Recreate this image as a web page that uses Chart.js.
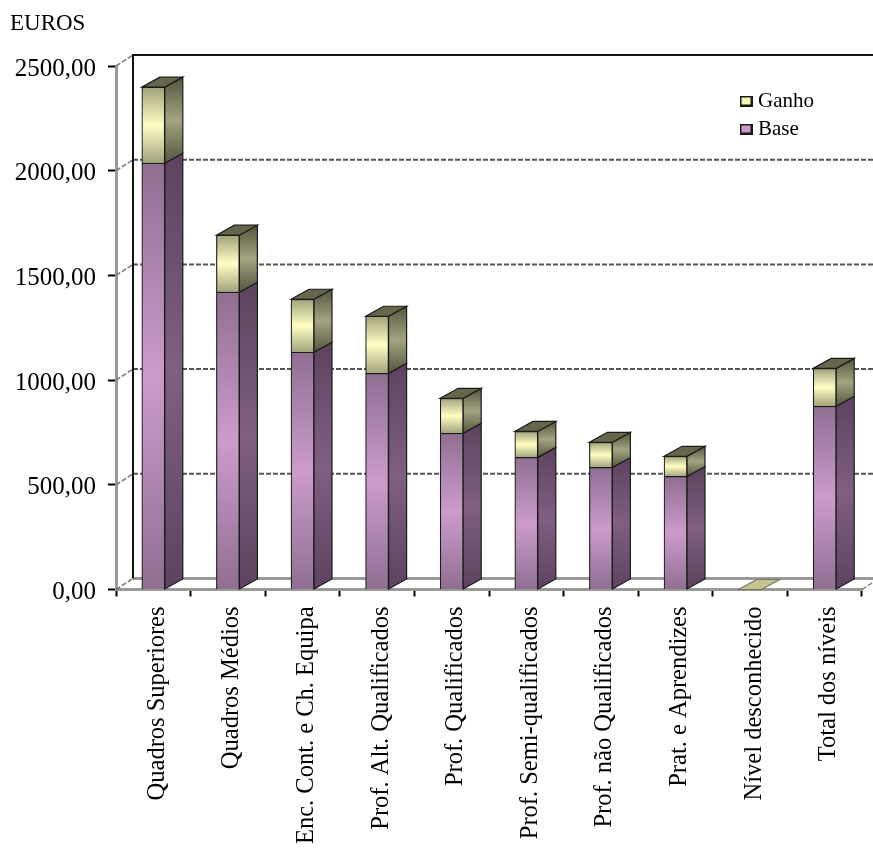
<!DOCTYPE html>
<html><head><meta charset="utf-8">
<style>html,body{margin:0;padding:0;background:#fff}canvas{display:block;filter:blur(.4px)}</style>
<script src="https://cdn.jsdelivr.net/npm/chart.js@4"></script>
</head><body><canvas id="c" width="873" height="848"></canvas>
<script>
const categories=["Quadros Superiores","Quadros Médios","Enc. Cont. e Ch. Equipa","Prof. Alt. Qualificados","Prof. Qualificados","Prof. Semi-qualificados","Prof. não Qualificados","Prat. e Aprendizes","Nível desconhecido","Total dos níveis"];
const baseValues=[2036,1420,1133,1032,746,631,583,540,0,875];
const ganhoValues=[363,272,253,273,167,124,120,96,0,181];
const yMax=2500, yStep=500;
const DX=18, DY=10, BACKX=17, BACKY=11;
const FONT='"Liberation Serif"';
const purple={front:['#8f6f92','#cc9bcb','#8f6f92'],side:['#5d435f','#7f5f82','#5d435f'],solid:'#c99cc9'};
const yellow={front:['#a2a27c','#ffffc4','#a2a27c'],side:['#55553e','#a4a482','#55553e'],solid:'#f5f5b0'};
function grad(ctx,y0,y1,c){const g=ctx.createLinearGradient(0,y0,0,y1);g.addColorStop(0,c[0]);g.addColorStop(.5,c[1]);g.addColorStop(1,c[2]);return g;}
function frontFill(pal,stackBelow){return (c)=>{
  if(c.dataIndex===undefined||c.type!=='data')return pal.solid;
  const ys=c.chart.scales.y; if(!ys)return pal.solid;
  const lo=stackBelow?stackBelow[c.dataIndex]:0; const v=c.dataset.data[c.dataIndex];
  const a=ys.getPixelForValue(lo+v),b=ys.getPixelForValue(lo);
  return (!isFinite(a)||!isFinite(b)||a===b)?pal.solid:grad(c.chart.ctx,a,b,pal.front);};}
function swatch(color){const s=document.createElement('canvas');s.width=13;s.height=11;const g=s.getContext('2d');
  g.fillStyle='#1a1a1a';g.fillRect(0,0,13,11);g.fillStyle=color;g.fillRect(2,2,9,7);return s;}
const legendMarks=[swatch(purple.solid),swatch(yellow.solid)];
const depth={id:'depth',
 afterLayout(chart){const l=chart.legend;l.left=737.5;l.top=83.5;l.adjustHitBoxes&&l.adjustHitBoxes();},
 beforeDatasetsDraw(chart){
  const {ctx,chartArea:a,scales:{x,y}}=chart;ctx.save();
  // walls
  const bx=a.left+BACKX, y0=y.getPixelForValue(0);
  ctx.setLineDash([5,2]);
  y.ticks.forEach(t=>{const p=y.getPixelForValue(t.value);
    ctx.strokeStyle='#777';ctx.lineWidth=1.5;
    ctx.beginPath();ctx.moveTo(a.left,p);ctx.lineTo(bx,p-BACKY);ctx.stroke();
    if(t.value>0&&t.value<yMax){ctx.strokeStyle='#555';ctx.lineWidth=2;ctx.beginPath();ctx.moveTo(bx,p-BACKY);ctx.lineTo(a.right+BACKX,p-BACKY);ctx.stroke();}
  });
  ctx.strokeStyle='#888';ctx.lineWidth=1.5;ctx.beginPath();ctx.moveTo(a.right,y0);ctx.lineTo(a.right+BACKX,y0-BACKY);ctx.stroke();
  ctx.setLineDash([]);ctx.strokeStyle='#999';ctx.lineWidth=3;
  ctx.beginPath();ctx.moveTo(bx,y0-BACKY);ctx.lineTo(a.right+BACKX,y0-BACKY);ctx.stroke();
  ctx.strokeStyle='#111';ctx.lineWidth=2;
  const top=y.getPixelForValue(yMax)-BACKY;
  ctx.beginPath();ctx.moveTo(bx,y0-BACKY);ctx.lineTo(bx,top);ctx.lineTo(a.right+BACKX,top);ctx.stroke();
  // bar depth
  ctx.lineWidth=1.2;ctx.strokeStyle='#1c1c1c';
  const pals=[purple,yellow];
  chart.getDatasetMeta(0).data.forEach((_,i)=>{
    [0,1].forEach(k=>{
      const el=chart.getDatasetMeta(k).data[i];const {x:cx,y:ty,base:by,width:w}=el.getProps(['x','y','base','width'],false);
      const r=cx+w/2,l=cx-w/2;
      if(by-ty>0.5){
        ctx.fillStyle=grad(ctx,ty-DY,by,pals[k].side);
        ctx.beginPath();ctx.moveTo(r,ty);ctx.lineTo(r+DX,ty-DY);ctx.lineTo(r+DX,by-DY);ctx.lineTo(r,by);ctx.closePath();ctx.fill();ctx.stroke();
      }
      if(k===1){
        const flat=by-ty<=0.5;
        ctx.fillStyle=flat?'#c4c490':'#66664c';ctx.strokeStyle=flat?'#77775a':'#1c1c1c';
        ctx.beginPath();ctx.moveTo(l,ty);ctx.lineTo(l+DX,ty-DY);ctx.lineTo(r+DX,ty-DY);ctx.lineTo(r,ty);ctx.closePath();ctx.fill();ctx.stroke();
        ctx.strokeStyle='#1c1c1c';
      }
    });
  });
  ctx.restore();
 }};
const edge=(c)=>c.type==='data'&&c.dataset.data[c.dataIndex]===0?'rgba(0,0,0,0)':'#1c1c1c';
new Chart(document.getElementById('c'),{type:'bar',
 data:{labels:categories,datasets:[
  {label:'Base',data:baseValues,backgroundColor:frontFill(purple),borderColor:edge,borderWidth:1.2,barThickness:23},
  {label:'Ganho',data:ganhoValues,backgroundColor:frontFill(yellow,baseValues),borderColor:edge,borderWidth:1.2,barThickness:23}
 ]},
 options:{responsive:false,animation:false,devicePixelRatio:1,
  layout:{padding:{left:10,right:11,top:0,bottom:0}},
  plugins:{
   title:{display:true,text:'EUROS',align:'start',color:'#000',font:{family:FONT,size:23,weight:'normal',lineHeight:1.2},padding:{top:10,bottom:28.4}},
   legend:{position:'chartArea',align:'start',reverse:true,labels:{usePointStyle:true,pointStyleWidth:3,padding:7,color:'#000',font:{family:FONT,size:21},
     generateLabels:c=>c.data.datasets.map((d,i)=>({text:d.label,datasetIndex:i,pointStyle:legendMarks[i],lineWidth:0,fontColor:'#000',hidden:false}))}},
   tooltip:{enabled:false}},
  scales:{
   x:{stacked:true,afterFit:s=>{s.height=258.5;},
      grid:{drawOnChartArea:false,tickLength:7,tickColor:'#000',tickWidth:2},border:{color:'#999',width:3},
      ticks:{autoSkip:false,minRotation:90,maxRotation:90,color:'#000',padding:10,labelOffset:4,font:{family:FONT,size:24.5}}},
   y:{stacked:true,min:0,max:yMax,afterFit:s=>{s.width=106;},
      grid:{drawOnChartArea:false,tickLength:8,tickColor:'#000',tickWidth:2},border:{color:'#999',width:3},
      ticks:{stepSize:yStep,color:'#000',padding:12,labelOffset:3,font:{family:FONT,size:25},callback:v=>v.toFixed(2).replace('.',',')}}
  }},
 plugins:[depth]});
</script></body></html>
